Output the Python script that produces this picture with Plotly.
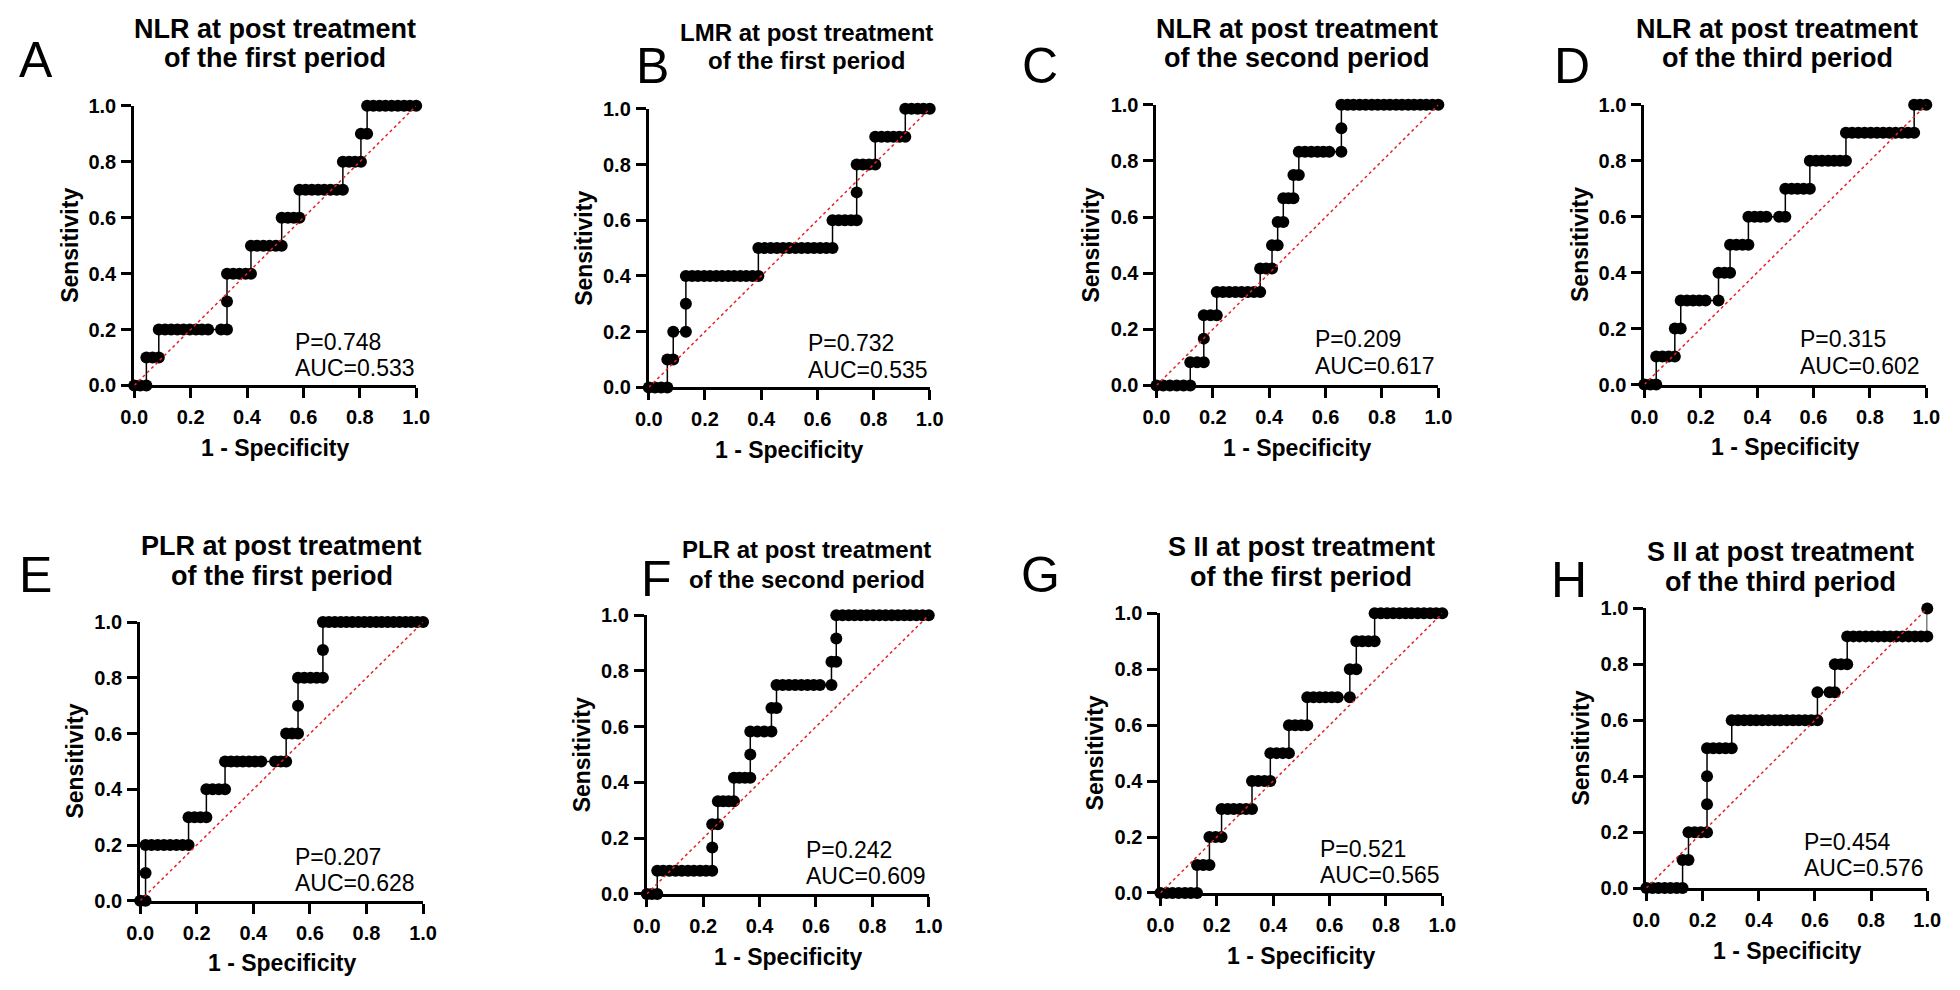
import plotly.graph_objects as go

W, H = 1960, 990
FONT = "Liberation Sans, Arial, sans-serif"

# ---------------- data ----------------
TICKS = [0.0, 0.2, 0.4, 0.6, 0.8, 1.0]
TICK_TEXT = ["0.0", "0.2", "0.4", "0.6", "0.8", "1.0"]
DIAG = [0.0, 1.0]

LEVELS_10 = [0.0, 0.1, 0.2, 0.3, 0.4, 0.5, 0.6, 0.7, 0.8, 0.9, 1.0]
LEVELS_12 = [0.0, 0.083, 0.167, 0.25, 0.333, 0.417, 0.5, 0.583, 0.667, 0.75, 0.833, 0.917, 1.0]

# 1 - specificity values of the points on each sensitivity level
A_runs = [
    [0, 0.021, 0.043],
    [0.043, 0.065, 0.087],
    [0.087, 0.109, 0.131, 0.153, 0.175, 0.197, 0.219, 0.240, 0.262, 0.308, 0.329],
    [0.329],
    [0.329, 0.351, 0.373, 0.395, 0.414],
    [0.414, 0.436, 0.458, 0.480, 0.502, 0.523],
    [0.523, 0.545, 0.566, 0.586],
    [0.586, 0.608, 0.630, 0.652, 0.674, 0.696, 0.718, 0.740],
    [0.740, 0.762, 0.783, 0.804],
    [0.804, 0.826],
    [0.826, 0.848, 0.870, 0.891, 0.913, 0.935, 0.957, 0.978, 1.0],
]
B_runs = [
    [0, 0.022, 0.044, 0.066],
    [0.066, 0.087],
    [0.087, 0.132],
    [0.132],
    [0.132, 0.154, 0.175, 0.197, 0.218, 0.240, 0.261, 0.283, 0.304, 0.326, 0.347, 0.369, 0.390],
    [0.390, 0.412, 0.434, 0.456, 0.478, 0.500, 0.522, 0.544, 0.566, 0.588, 0.610, 0.632, 0.654],
    [0.654, 0.676, 0.698, 0.720, 0.740],
    [0.740],
    [0.740, 0.762, 0.784, 0.806],
    [0.806, 0.828, 0.850, 0.871, 0.892, 0.913],
    [0.913, 0.935, 0.957, 0.978, 1.0],
]
C_runs = [
    [0, 0.024, 0.048, 0.072, 0.096, 0.12],
    [0.12, 0.144, 0.168],
    [0.168],
    [0.168, 0.192, 0.214],
    [0.214, 0.236, 0.258, 0.280, 0.302, 0.324, 0.346, 0.368],
    [0.368, 0.389, 0.41],
    [0.41, 0.43],
    [0.43, 0.45],
    [0.45, 0.468, 0.486],
    [0.486, 0.505],
    [0.505, 0.527, 0.549, 0.571, 0.592, 0.613, 0.656],
    [0.656],
    [0.656, 0.678, 0.699, 0.721, 0.742, 0.764, 0.785, 0.807, 0.828, 0.850, 0.871, 0.893,
     0.914, 0.936, 0.957, 0.979, 1.0],
]
D_runs = [
    [0, 0.021, 0.042],
    [0.042, 0.064, 0.086, 0.108],
    [0.108, 0.129],
    [0.129, 0.151, 0.173, 0.195, 0.217, 0.263],
    [0.263, 0.284, 0.304],
    [0.304, 0.326, 0.348, 0.369],
    [0.369, 0.391, 0.412, 0.433, 0.478, 0.5],
    [0.5, 0.522, 0.543, 0.565, 0.587],
    [0.587, 0.609, 0.630, 0.652, 0.673, 0.694, 0.715],
    [0.715, 0.737, 0.759, 0.781, 0.803, 0.825, 0.847, 0.869, 0.891, 0.913, 0.935, 0.957],
    [0.957, 0.978, 1.0],
]
E_runs = [
    [0, 0.019],
    [0.019],
    [0.019, 0.04, 0.062, 0.084, 0.106, 0.128, 0.15, 0.171],
    [0.171, 0.192, 0.213, 0.234],
    [0.234, 0.256, 0.278, 0.3],
    [0.3, 0.321, 0.342, 0.363, 0.385, 0.406, 0.428, 0.477, 0.497, 0.516],
    [0.516, 0.537, 0.558],
    [0.558],
    [0.558, 0.58, 0.602, 0.624, 0.646],
    [0.646],
    [0.646, 0.667, 0.688, 0.709, 0.729, 0.75, 0.771, 0.792, 0.813, 0.834, 0.854, 0.875,
     0.896, 0.917, 0.938, 0.958, 0.979, 1.0],
]
F_runs = [
    [0, 0.018, 0.037],
    [0.037, 0.058, 0.080, 0.102, 0.124, 0.146, 0.167, 0.189, 0.21, 0.232],
    [0.232],
    [0.232, 0.252],
    [0.252, 0.271, 0.29, 0.309],
    [0.309, 0.328, 0.348, 0.367],
    [0.367],
    [0.367, 0.392, 0.417, 0.442],
    [0.442, 0.46],
    [0.46, 0.482, 0.504, 0.526, 0.548, 0.57, 0.592, 0.614, 0.655],
    [0.655, 0.672],
    [0.672],
    [0.672, 0.694, 0.716, 0.737, 0.759, 0.781, 0.803, 0.825, 0.847, 0.869, 0.891, 0.913,
     0.934, 0.956, 0.978, 1.0],
]
G_runs = [
    [0, 0.022, 0.043, 0.065, 0.087, 0.108, 0.13],
    [0.13, 0.152, 0.174],
    [0.174, 0.196, 0.217],
    [0.217, 0.239, 0.26, 0.282, 0.304, 0.325],
    [0.325, 0.347, 0.369, 0.39],
    [0.39, 0.412, 0.434, 0.456],
    [0.456, 0.478, 0.5, 0.521],
    [0.521, 0.543, 0.565, 0.586, 0.608, 0.629, 0.672],
    [0.672, 0.695],
    [0.695, 0.716, 0.738, 0.76],
    [0.76, 0.782, 0.804, 0.826, 0.848, 0.870, 0.891, 0.913, 0.935, 0.957, 0.978, 1.0],
]
H_runs = [
    [0, 0.022, 0.043, 0.065, 0.086, 0.108, 0.129],
    [0.129, 0.15],
    [0.15, 0.172, 0.194, 0.216],
    [0.216],
    [0.216],
    [0.216, 0.238, 0.26, 0.282, 0.304],
    [0.304, 0.326, 0.348, 0.37, 0.391, 0.413, 0.435, 0.457, 0.478, 0.5, 0.522, 0.543,
     0.565, 0.587, 0.609],
    [0.609, 0.652, 0.671],
    [0.671, 0.693, 0.715],
    [0.715, 0.737, 0.759, 0.781, 0.803, 0.825, 0.847, 0.868, 0.890, 0.912, 0.934, 0.956,
     0.978, 1.0],
    [1.0],
]

LETTERS = ["A", "B", "C", "D", "E", "F", "G", "H"]
TITLE_LINE1 = ["NLR at post treatment", "LMR at post treatment", "NLR at post treatment",
               "NLR at post treatment", "PLR at post treatment", "PLR at post treatment",
               "S II at post treatment", "S II at post treatment"]
TITLE_LINE2 = ["of the first period", "of the first period", "of the second period",
               "of the third period", "of the first period", "of the second period",
               "of the first period", "of the third period"]
P_VALUES = ["0.748", "0.732", "0.209", "0.315", "0.207", "0.242", "0.521", "0.454"]
AUC_VALUES = ["0.533", "0.535", "0.617", "0.602", "0.628", "0.609", "0.565", "0.576"]
RUNS = [A_runs, B_runs, C_runs, D_runs, E_runs, F_runs, G_runs, H_runs]
LEVELS = [LEVELS_10, LEVELS_10, LEVELS_12, LEVELS_10, LEVELS_10, LEVELS_12, LEVELS_10, LEVELS_10]

# ---------------- layout geometry (pixels) ----------------
BOXES = [  # x0, ytop, x1, ybottom of plot areas
    (122, 97, 408, 383), (644, 100, 929, 385), (1159, 96, 1445, 383), (1654, 96, 1940, 382),
    (128, 625, 415, 910), (642, 618, 928, 903), (1163, 616, 1449, 902), (1656, 611, 1941, 897),
]
LETTER_POS = [(22, 50), (648, 56), (1041, 56), (1581, 56),
              (22, 577), (652, 581), (1041, 577), (1578, 582)]
TITLE_LINES_Y = [(18, 48), (22, 51), (18, 48), (18, 48),
                 (547, 578), (551, 581), (548, 579), (553, 584)]
TITLE_DX = [0, 17, 0, -8, 0, 19, 0, -6]       # title centre offset from plot centre
TITLE_SIZE = [27, 24, 27, 27, 27, 24, 27, 27]
TEXT_POS = [  # x (data), y of P line, y of AUC line
    (0.563, 0.157, 0.063), (0.561, 0.158, 0.063), (0.556, 0.164, 0.07), (0.545, 0.164, 0.066),
    (0.54, 0.158, 0.063), (0.556, 0.158, 0.063), (0.56, 0.157, 0.066), (0.554, 0.164, 0.07),
]


def px(x):
    return x / W


def py(y):
    return 1 - y / H


fig = go.Figure()
annotations = []
layout_axes = {}

for i in range(8):
    n = i + 1
    sfx = "" if n == 1 else str(n)
    xs, ys = [], []
    for lvl, run in zip(LEVELS[i], RUNS[i]):
        for v in run:
            xs.append(v)
            ys.append(lvl)
    fig.add_trace(go.Scatter(
        x=xs, y=ys, xaxis="x" + sfx, yaxis="y" + sfx, mode="lines+markers",
        line=dict(color="black", width=1.5),
        marker=dict(size=12, color="black"),
        cliponaxis=False, showlegend=False, hoverinfo="skip"))
    fig.add_trace(go.Scatter(
        x=DIAG, y=DIAG, xaxis="x" + sfx, yaxis="y" + sfx, mode="lines",
        line=dict(color="#e3232b", width=1.5, dash="3px,3px"),
        showlegend=False, hoverinfo="skip"))

    x0, yt, x1, yb = BOXES[i]
    common = dict(range=[0, 1], showline=True, linewidth=3, linecolor="black",
                  ticks="outside", ticklen=10, tickwidth=3, tickcolor="black",
                  tickvals=TICKS, ticktext=TICK_TEXT,
                  tickfont=dict(family=FONT, size=20, color="black", weight="bold"),
                  showgrid=False, zeroline=False, fixedrange=True, layer="below traces")
    layout_axes["xaxis" + sfx] = dict(domain=[px(x0), px(x1)], anchor="y" + sfx,
                                      ticklabelstandoff=2, **common)
    layout_axes["yaxis" + sfx] = dict(domain=[py(yb), py(yt)], anchor="x" + sfx,
                                      ticklabelstandoff=1, **common)

    cx = (x0 + x1) / 2
    cy = (yt + yb) / 2
    # panel title (two lines)
    for txt, ty in zip((TITLE_LINE1[i], TITLE_LINE2[i]), TITLE_LINES_Y[i]):
        annotations.append(dict(x=px(cx + TITLE_DX[i]), y=py(ty), xref="paper", yref="paper",
                                text=txt, showarrow=False, xanchor="center", yanchor="middle",
                                font=dict(family=FONT, size=TITLE_SIZE[i], color="black",
                                          weight="bold")))
    # panel letter
    lx, ly = LETTER_POS[i]
    annotations.append(dict(x=px(lx), y=py(ly), xref="paper", yref="paper",
                            text=LETTERS[i], showarrow=False, xanchor="center", yanchor="middle",
                            font=dict(family=FONT, size=50, color="black")))
    # axis titles
    annotations.append(dict(x=px(cx), y=py(yb + 64), xref="paper", yref="paper",
                            text="1 - Specificity", showarrow=False, xanchor="center",
                            yanchor="middle",
                            font=dict(family=FONT, size=23, color="black", weight="bold")))
    annotations.append(dict(x=px(x0 - 66), y=py(cy), xref="paper", yref="paper",
                            text="Sensitivity", showarrow=False, textangle=-90,
                            xanchor="center", yanchor="middle",
                            font=dict(family=FONT, size=23, color="black", weight="bold")))
    # statistics
    tx, tpy, tay = TEXT_POS[i]
    annotations.append(dict(x=tx, y=tpy, xref="x" + sfx, yref="y" + sfx,
                            text="P=" + P_VALUES[i], showarrow=False,
                            xanchor="left", yanchor="middle",
                            font=dict(family=FONT, size=23, color="black")))
    annotations.append(dict(x=tx, y=tay, xref="x" + sfx, yref="y" + sfx,
                            text="AUC=" + AUC_VALUES[i], showarrow=False,
                            xanchor="left", yanchor="middle",
                            font=dict(family=FONT, size=23, color="black")))

fig.update_layout(
    width=W, height=H, margin=dict(l=0, r=0, t=0, b=0),
    paper_bgcolor="white", plot_bgcolor="white",
    annotations=annotations, showlegend=False,
    **layout_axes,
)

fig.write_html("out.html", config={"displayModeBar": False},
               post_script="document.body.style.margin='0';")
